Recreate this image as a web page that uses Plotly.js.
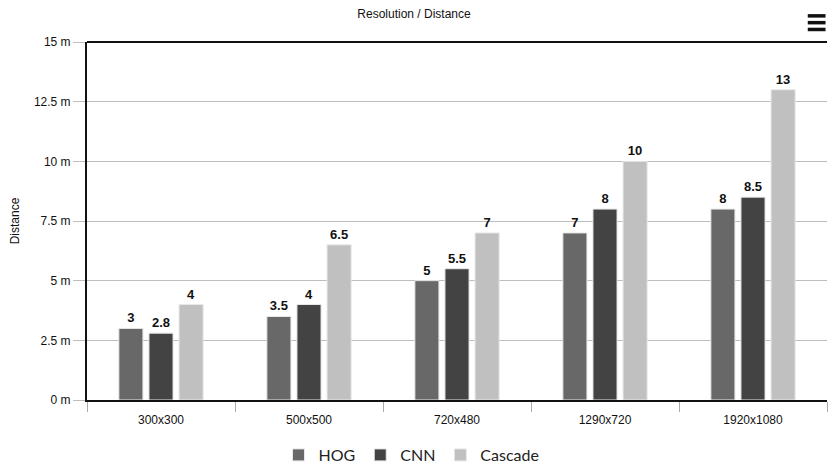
<!DOCTYPE html>
<html>
<head>
<meta charset="utf-8">
<script src="https://cdn.plot.ly/plotly-3.0.1.min.js"></script>
<style>html,body{margin:0;padding:0;background:#fff}#chart{width:828px;height:465px}</style>
</head>
<body>
<div id="chart"></div>
<script>
const categories = ["300x300", "500x500", "720x480", "1290x720", "1920x1080"];
const hog = [3, 3.5, 5, 7, 8];
const cnn = [2.8, 4, 5.5, 8, 8.5];
const cascade = [4, 6.5, 7, 10, 13];
const yTickVals = [0, 2.5, 5, 7.5, 10, 12.5, 15];
const yTickText = ["0 m", "2.5 m", "5 m", "7.5 m", "10 m", "12.5 m", "15 m"];

function mk(name, y, color) {
  return {
    type: 'bar', name: name, x: categories, y: y,
    marker: {color: color, line: {color: '#e8e8e8', width: 1}},
    text: y.map(String), textposition: 'outside', cliponaxis: false,
    textfont: {family: 'Liberation Sans, Arial, sans-serif', size: 13, color: '#111', weight: 'bold'},
    hoverinfo: 'x+y'
  };
}
const data = [mk('HOG', hog, '#686868'), mk('CNN', cnn, '#434343'), mk('Cascade', cascade, '#c0c0c0')];

const layout = {
  width: 828, height: 465,
  margin: {l: 87, r: 1, t: 42, b: 65, autoexpand: false},
  paper_bgcolor: '#fff', plot_bgcolor: '#fff',
  font: {family: 'Liberation Sans, Arial, sans-serif', size: 12, color: '#111'},
  title: {text: 'Resolution / Distance', x: 0.5, xanchor: 'center', y: 0.98, yanchor: 'top',
          font: {size: 12, color: '#111'}},
  barmode: 'group', bargap: 0.39, bargroupgap: 0.2,
  showlegend: true,
  legend: {orientation: 'h', x: 0.497, xanchor: 'center', xref: 'container', y: 0.0215, yanchor: 'middle', yref: 'container',
           font: {family: 'Lato, Open Sans, sans-serif', size: 16, color: '#222'},
           itemwidth: 30, traceorder: 'normal'},
  xaxis: {
    type: 'category', showgrid: false, zeroline: false,
    showline: true, linecolor: '#111', linewidth: 2,
    ticks: 'outside', tickson: 'boundaries', ticklen: 10, tickcolor: '#aaa', tickwidth: 1,
    ticklabelstandoff: 8,
    tickfont: {size: 12, color: '#111'}
  },
  yaxis: {
    range: [0, 15], tickvals: yTickVals, ticktext: yTickText,
    showgrid: true, gridcolor: '#bdbdbd', gridwidth: 1, zeroline: false,
    showline: true, linecolor: '#111', linewidth: 2,
    ticks: 'outside', ticklen: 12, tickcolor: '#bdbdbd', tickwidth: 1,
    tickfont: {size: 12, color: '#111'},
    title: {text: 'Distance', font: {size: 12, color: '#111'}, standoff: 12}
  },
  shapes: [
    {type: 'line', xref: 'paper', yref: 'paper', x0: 0, x1: 1, y0: 1, y1: 1, line: {color: '#111', width: 2}},
    {type: 'line', xref: 'paper', yref: 'paper', x0: 0.974, x1: 0.998, y0: 1.073, y1: 1.073, line: {color: '#111', width: 3.5}},
    {type: 'line', xref: 'paper', yref: 'paper', x0: 0.974, x1: 0.998, y0: 1.054, y1: 1.054, line: {color: '#111', width: 3.5}},
    {type: 'line', xref: 'paper', yref: 'paper', x0: 0.974, x1: 0.998, y0: 1.035, y1: 1.035, line: {color: '#111', width: 3.5}}
  ]
};
Plotly.newPlot('chart', data, layout, {displayModeBar: false, responsive: false});
</script>
</body>
</html>
